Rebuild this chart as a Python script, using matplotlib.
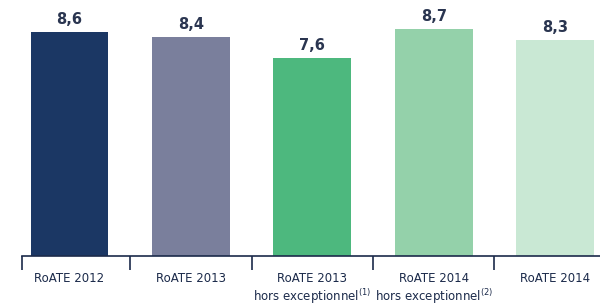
import numpy as np
import matplotlib
matplotlib.use("Agg")
import matplotlib.pyplot as plt

categories = ["RoATE 2012", "RoATE 2013", "RoATE 2013", "RoATE 2014", "RoATE 2014"]
subtitles = ["", "", "hors exceptionnel$^{(1)}$", "hors exceptionnel$^{(2)}$", ""]
values = [8.6, 8.4, 7.6, 8.7, 8.3]
value_labels = ["8,6", "8,4", "7,6", "8,7", "8,3"]
colors = ["#1b3764", "#7a7f9c", "#4db87e", "#94d1aa", "#c9e8d4"]

navy = "#1b2a4a"

fig = plt.figure(figsize=(6.0, 3.05), dpi=100)
ax = fig.add_axes([0.0367, 0.161, 0.9633, 0.839])

x = np.arange(len(values))
ax.bar(x, values, width=0.64, color=colors)

for xi, v, lab in zip(x, values, value_labels):
    ax.text(xi, v + 0.2, lab, ha="center", va="bottom", fontsize=10.5,
            fontweight="bold", color="#2a3550")

ax.set_xlim(-0.39, 4.37)
ax.set_ylim(0, 9.83)

for s in ["top", "right", "left"]:
    ax.spines[s].set_visible(False)
ax.spines["bottom"].set_color(navy)
ax.spines["bottom"].set_linewidth(1.2)
ax.set_yticks([])

# separators
ax.set_xticks([-0.39, 0.5, 1.5, 2.5, 3.5])
ax.set_xticklabels([])
ax.tick_params(axis="x", which="major", direction="out", length=10, width=1.2, color=navy)

for xi, cat, sub in zip(x, categories, subtitles):
    ax.text(xi, -0.85, cat, ha="center", va="center", fontsize=8.5,
            family="Liberation Sans Narrow", color=navy)
    if sub:
        ax.text(xi, -1.57, sub, ha="center", va="center", fontsize=8.5,
                family="Liberation Sans Narrow", color=navy)

fig.savefig("out.png", dpi=100)
